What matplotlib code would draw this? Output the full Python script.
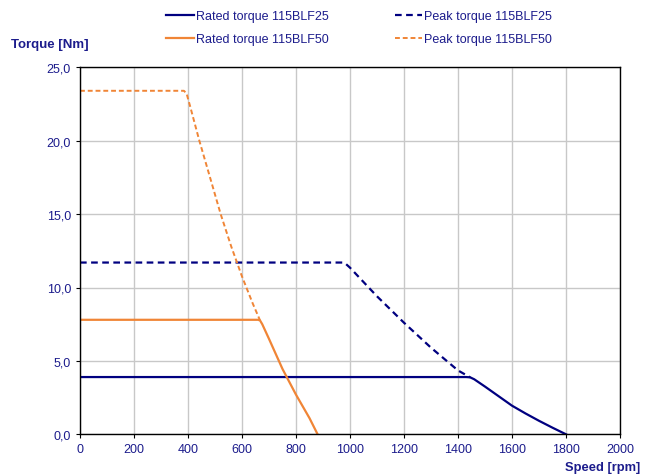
import matplotlib
matplotlib.use("Agg")
import matplotlib.pyplot as plt
from matplotlib.ticker import FuncFormatter

plt.rcParams['font.family'] = ['Liberation Sans', 'DejaVu Sans']

# rated and peak torque curves
rated25_speed = [0, 1430, 1445, 1460, 1500, 1550, 1600, 1650, 1700, 1750, 1800]
rated25_torque = [3.9, 3.9, 3.88, 3.75, 3.25, 2.6, 1.95, 1.42, 0.92, 0.45, 0.0]

peak25_speed = [0, 975, 985, 1000, 1100, 1200, 1300, 1400, 1445]
peak25_torque = [11.7, 11.7, 11.6, 11.35, 9.4, 7.6, 5.9, 4.35, 3.88]

rated50_speed = [0, 660, 667, 675, 700, 750, 800, 850, 880]
rated50_torque = [7.8, 7.8, 7.75, 7.5, 6.5, 4.45, 2.7, 1.1, 0.0]

peak50_speed = [0, 385, 395, 410, 442, 480, 521, 560, 600, 640, 667]
peak50_torque = [23.4, 23.4, 23.2, 22.2, 20.0, 17.6, 15.0, 12.8, 10.75, 8.9, 7.75]

navy = "#000080"
orange = "#F08536"
label_color = "#1c1c8c"

fig = plt.figure(figsize=(6.53, 4.77), dpi=100)
ax = fig.add_axes([80 / 653, 1 - 435.3 / 477, 540 / 653, (435.3 - 68.3) / 477])

ax.plot(rated25_speed, rated25_torque, color=navy, lw=1.6, label="Rated torque 115BLF25")
ax.plot(rated50_speed, rated50_torque, color=orange, lw=1.6, label="Rated torque 115BLF50")
ax.plot(peak25_speed, peak25_torque, color=navy, lw=1.6, ls=(0, (3, 2)), label="Peak torque 115BLF25")
ax.plot(peak50_speed, peak50_torque, color=orange, lw=1.4, ls=(0, (2.5, 1.5)), label="Peak torque 115BLF50")

ax.set_xlim(0, 2000)
ax.set_ylim(0, 25)
ax.set_xticks(range(0, 2001, 200))
ax.set_yticks([0, 5, 10, 15, 20, 25])
ax.yaxis.set_major_formatter(FuncFormatter(lambda v, p: f"{v:.1f}".replace(".", ",")))
ax.grid(True, color="#c8c8c8", lw=1)
ax.set_axisbelow(True)
ax.tick_params(direction="out", length=3, width=0.8, colors="black", labelcolor=label_color, labelsize=9)
for s in ax.spines.values():
    s.set_color("black")
    s.set_linewidth(1)

fig.text(11 / 653, 1 - 45 / 477, "Torque [Nm]", color=label_color, fontsize=9.5,
         fontweight="bold", va="center", ha="left")
fig.text(640 / 653, 1 - 468 / 477, "Speed [rpm]", color=label_color, fontsize=9.3,
         fontweight="bold", va="center", ha="right")

leg = fig.legend(loc="upper left", bbox_to_anchor=(161 / 653, 1 - 6 / 477), ncol=2, frameon=False,
                 fontsize=9, handlelength=2.2, handletextpad=0.16, columnspacing=5.3,
                 labelspacing=0.9, borderaxespad=0)
for t in leg.get_texts():
    t.set_color(label_color)

fig.savefig("out.png", dpi=100)
